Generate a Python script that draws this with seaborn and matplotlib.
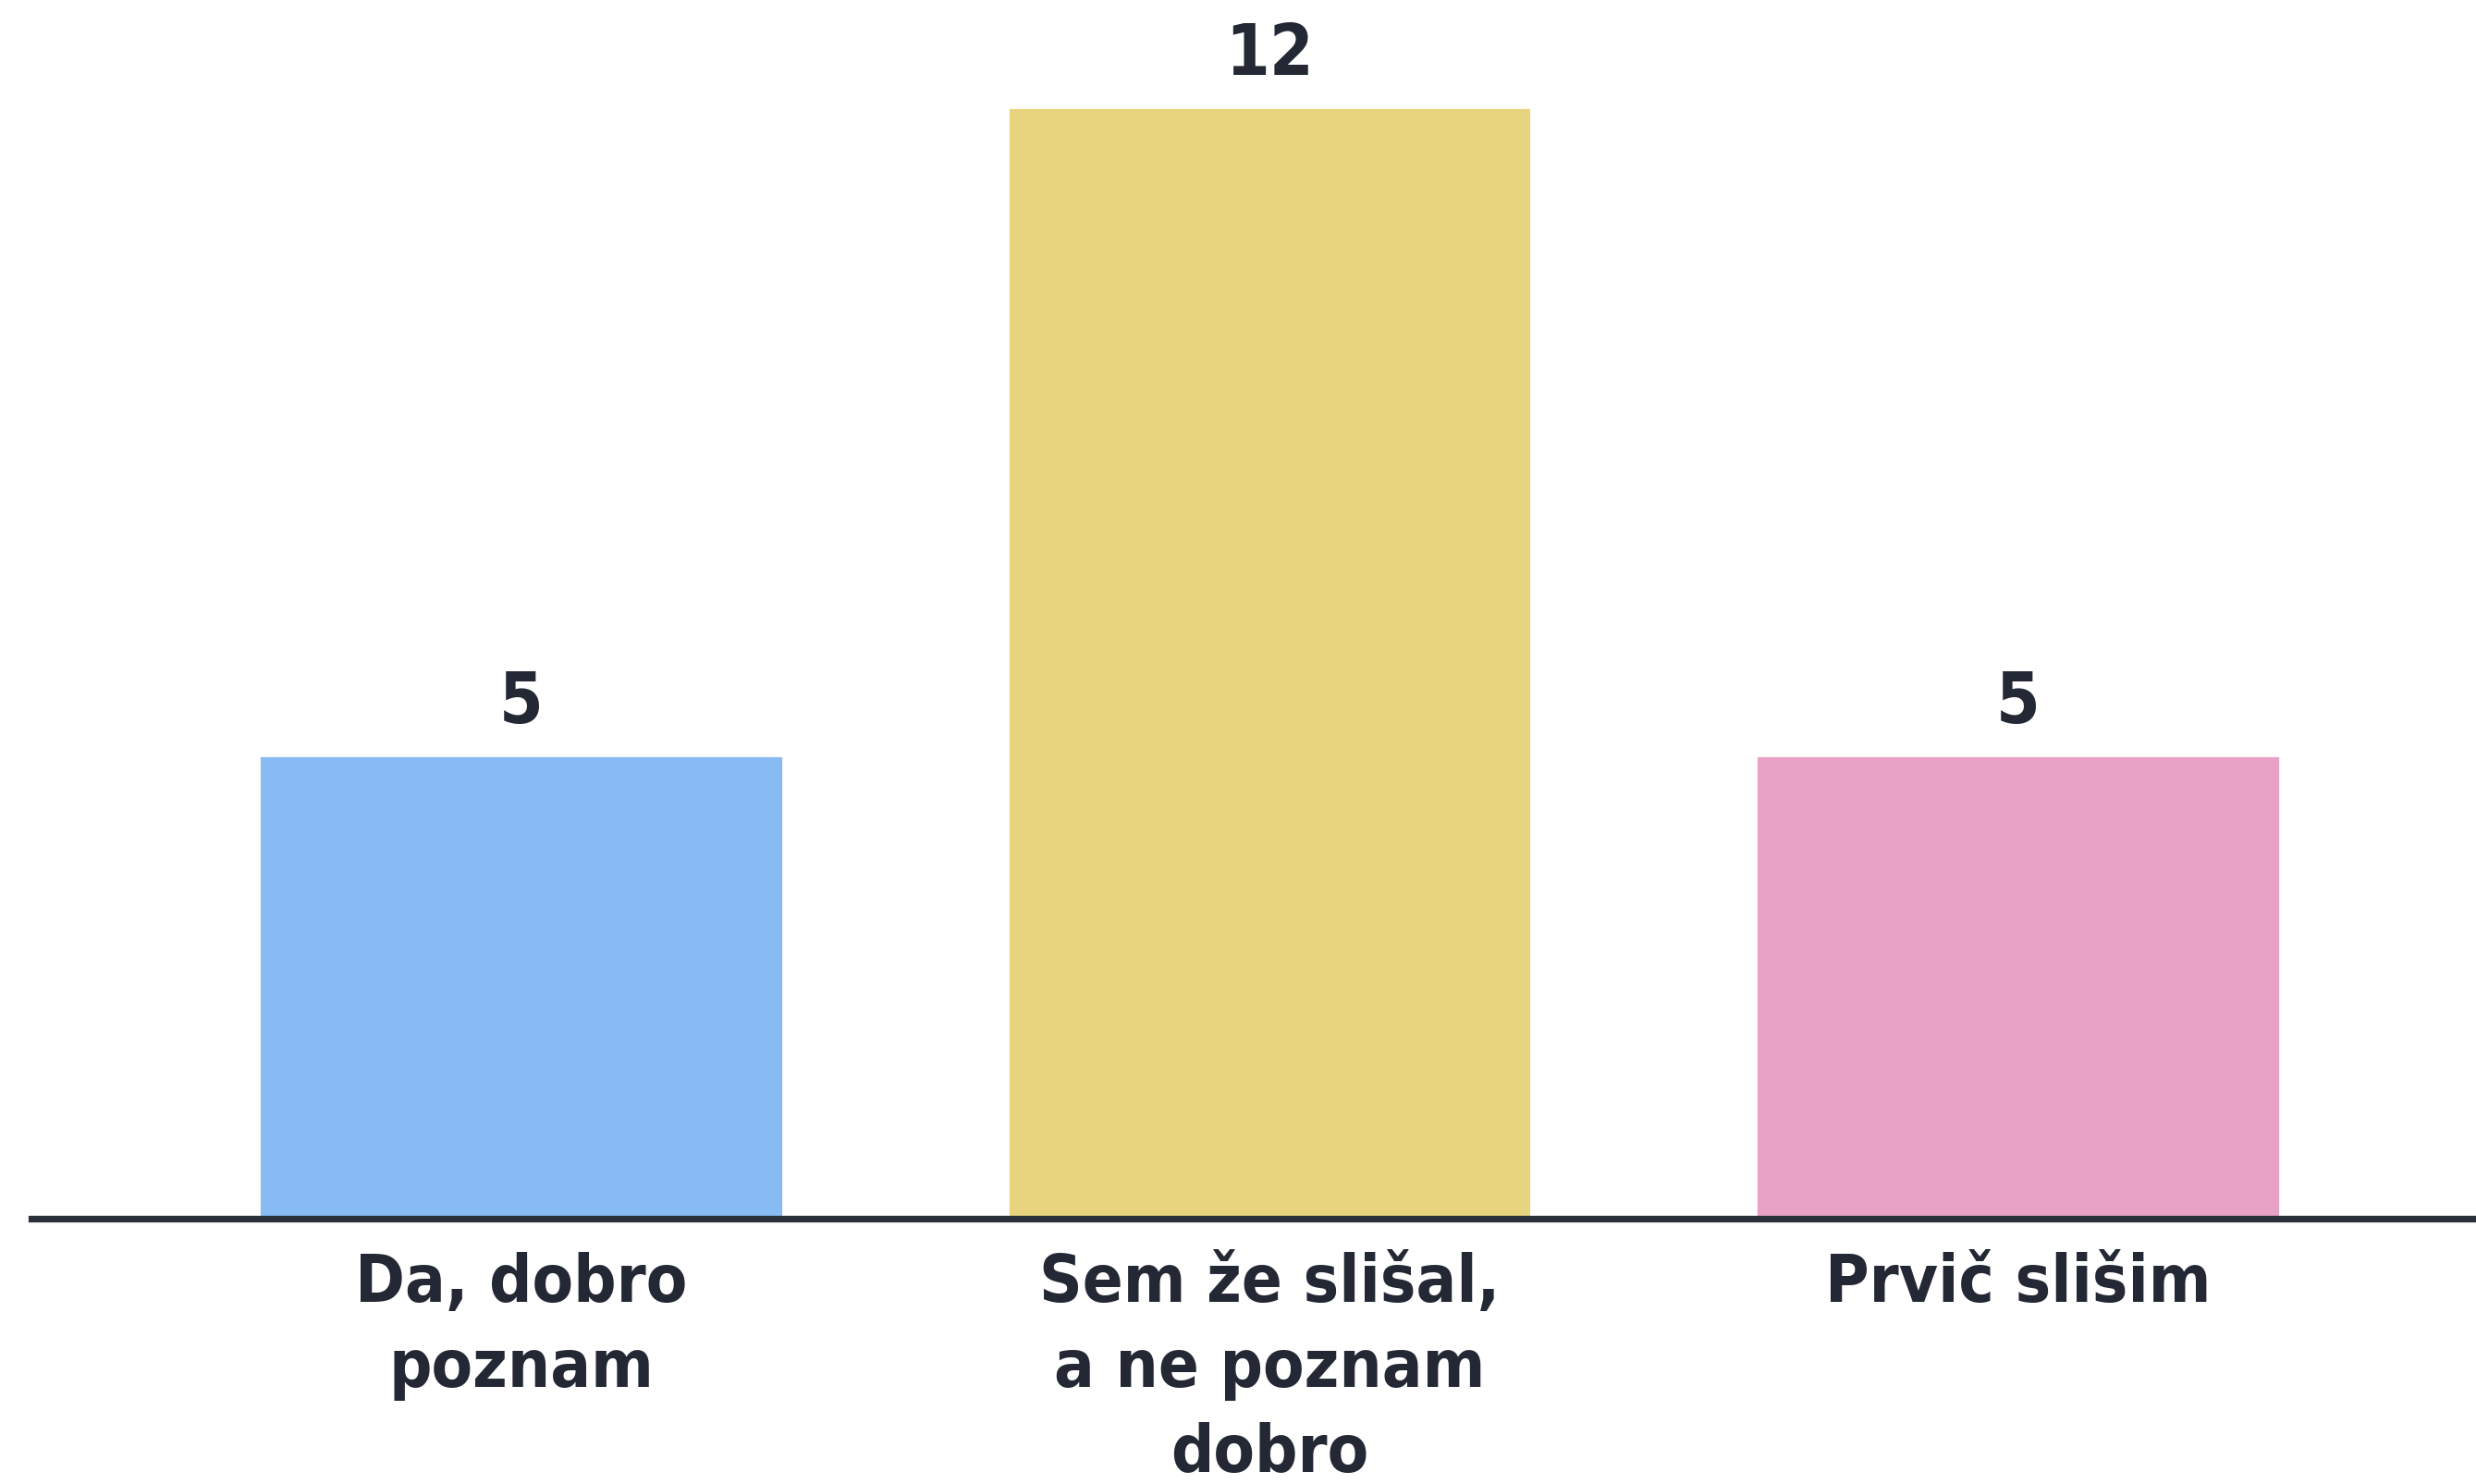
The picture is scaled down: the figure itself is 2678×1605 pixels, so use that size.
import matplotlib
matplotlib.use("Agg")
import matplotlib.pyplot as plt
import seaborn as sns
import pandas as pd

categories = ["Da, dobro\npoznam", "Sem že slišal,\na ne poznam\ndobro", "Prvič slišim"]
counts = [5, 12, 5]
colors = ["#88BBF4", "#E8D47F", "#E8A2C5"]
text_color = "#232834"

sns.set_theme(style="white")
plt.rcParams["font.family"] = ["DejaVu Sans"]
plt.rcParams["font.stretch"] = "condensed"

df = pd.DataFrame({"Label": categories, "Count": counts})

fig = plt.figure(figsize=(13.39, 8.025), dpi=200)
ax = fig.add_axes([0.01276, 0.1787, 0.98724, 0.749])

sns.barplot(
    data=df,
    x="Label",
    y="Count",
    hue="Label",
    palette=colors,
    legend=False,
    width=0.7,
    saturation=1,
    ax=ax,
)

ax.set_xlim(-0.654, 2.612)
ax.set_ylim(0, 12)

for c in ax.containers:
    ax.bar_label(c, padding=7, fontsize=27.5, fontweight="bold", fontstretch="condensed",
                 color=text_color, clip_on=False)

for side in ["top", "right", "left"]:
    ax.spines[side].set_visible(False)
ax.spines["bottom"].set_color("#2a2f3a")
ax.spines["bottom"].set_linewidth(2.6)

ax.set_yticks([])
ax.set_xlabel("")
ax.set_ylabel("")
ax.tick_params(axis="x", length=0, pad=13)
for t in ax.get_xticklabels():
    t.set_fontsize(26)
    t.set_fontweight("bold")
    t.set_fontstretch("condensed")
    t.set_color(text_color)
    t.set_linespacing(1.42)
    t.set_verticalalignment("top")

fig.savefig("out.png", dpi=200)
